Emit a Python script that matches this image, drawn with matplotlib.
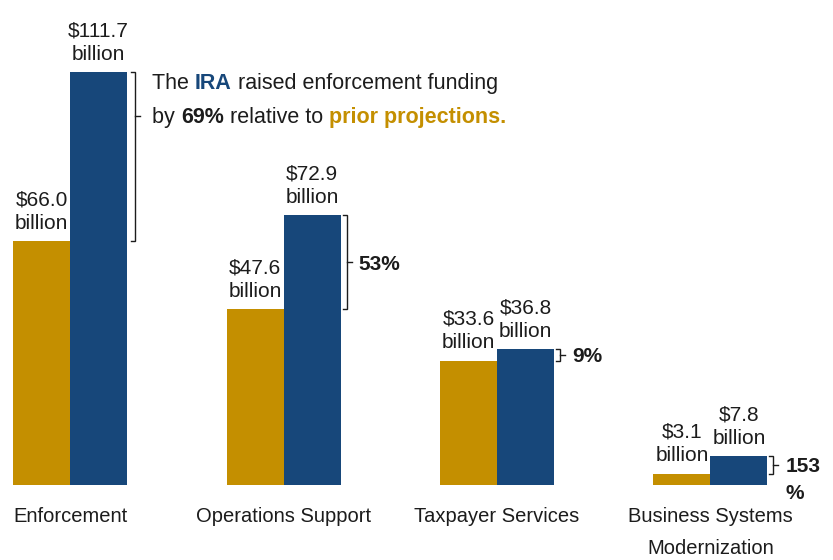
import numpy as np
import matplotlib
matplotlib.use("Agg")
import matplotlib.pyplot as plt

categories = ["Enforcement", "Operations Support", "Taxpayer Services",
              "Business Systems\nModernization"]
prior = [66.0, 47.6, 33.6, 3.1]       # prior projections, $ billion
ira = [111.7, 72.9, 36.8, 7.8]        # with IRA funding, $ billion
increase_labels = ["69%", "53%", "9%", "153\n%"]

GOLD = "#C48F00"
NAVY = "#17477A"
INK = "#1c1c1c"

plt.rcParams["font.family"] = ["Liberation Sans", "DejaVu Sans"]
plt.rcParams["text.color"] = INK

fig = plt.figure(figsize=(8.33, 5.6), dpi=100)
ax = fig.add_axes([0, 0, 1, 1])
ax.set_xlim(-0.328, 3.574)
ax.set_ylim(-20.3, 131.2)
ax.axis("off")

# data units per pixel
px = 3.902 / 833
py = 151.5 / 560

w = 0.267
x = np.arange(len(categories))
ax.bar(x - w / 2, prior, w, color=GOLD)
ax.bar(x + w / 2, ira, w, color=NAVY)

for i in range(len(categories)):
    for xc, v in ((x[i] - w / 2, prior[i]), (x[i] + w / 2, ira[i])):
        ax.annotate(f"${v:.1f}\nbillion", (xc, v), xytext=(0, 6),
                    textcoords="offset points", ha="center", va="bottom",
                    fontsize=15, linespacing=1.3)
    ax.text(x[i], -22 * py, categories[i], ha="center", va="top",
            fontsize=14.5, linespacing=1.9)

# brackets showing the increase
tick_y0 = ira[0] - 44 * py
for i in range(len(categories)):
    gap = 8 if i == 0 else 6
    xb = x[i] + w + gap * px
    lo, hi = prior[i], ira[i]
    ym = tick_y0 if i == 0 else (lo + hi) / 2
    ax.plot([xb - 4 * px, xb, xb, xb - 4 * px], [hi, hi, lo, lo],
            color=INK, lw=1.0, solid_joinstyle="miter")
    ax.plot([xb, xb + 5 * px], [ym, ym], color=INK, lw=1.0)
    if i > 0:
        ax.annotate(increase_labels[i], (xb + 12 * px, ym), xytext=(0, 5.5),
                    textcoords="offset points", ha="left", va="top",
                    fontsize=15, fontweight="bold", linespacing=1.5)

# two-line note next to the enforcement bracket, with coloured words
def rich_line(x0, y0, parts):
    t = ax.text(x0, y0, parts[0][0], color=parts[0][1], fontweight=parts[0][2],
                ha="left", va="baseline", fontsize=15.5)
    for s, c, fw in parts[1:]:
        t = ax.annotate(s, xy=(1, 0), xycoords=t, va="bottom", ha="left",
                        color=c, fontweight=fw, fontsize=15.5)

note_x = x[0] + w + 25 * px
rich_line(note_x, ira[0] - 17 * py,
          [("The ", INK, "normal"), ("IRA", NAVY, "bold"),
           (" raised enforcement funding", INK, "normal")])
rich_line(note_x, ira[0] - 51 * py,
          [("by ", INK, "normal"), (increase_labels[0], INK, "bold"),
           (" relative to ", INK, "normal"), ("prior projections.", GOLD, "bold")])

fig.savefig("out.png", dpi=100)
